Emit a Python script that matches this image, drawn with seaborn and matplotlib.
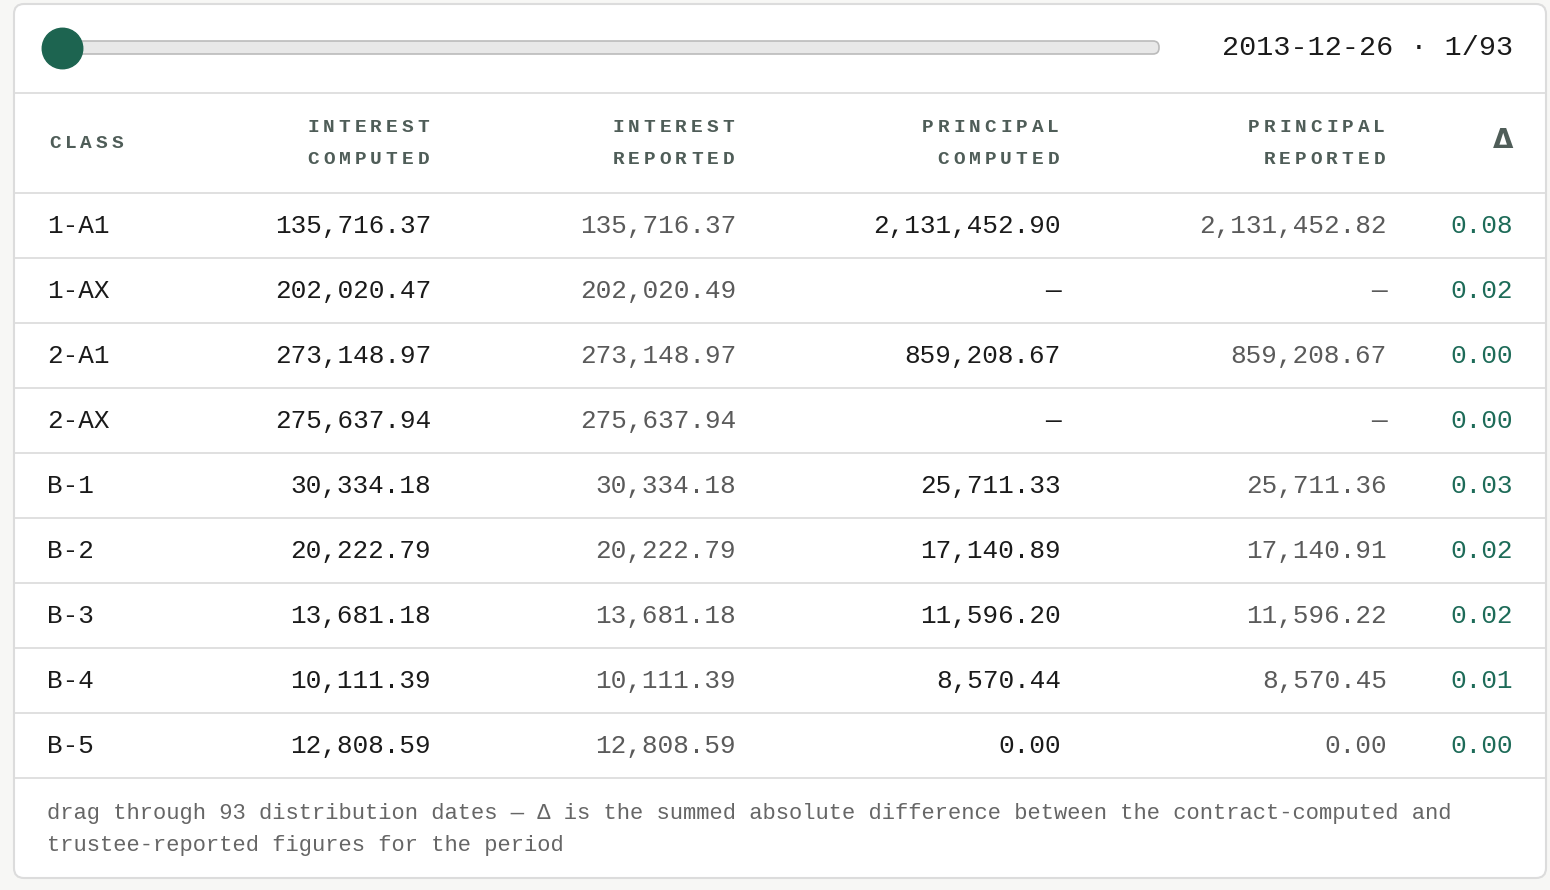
import matplotlib
matplotlib.use("Agg")
import matplotlib.pyplot as plt
from matplotlib.patches import FancyBboxPatch
import seaborn as sns

sns.set_theme(style="white")
plt.rcParams['font.family'] = ['Liberation Mono', 'DejaVu Sans Mono']

date_label = "2013-12-26"
step, total = 1, 93
headers = [("CLASS",), ("INTEREST", "COMPUTED"), ("INTEREST", "REPORTED"),
           ("PRINCIPAL", "COMPUTED"), ("PRINCIPAL", "REPORTED"), ("Δ",)]
classes = ["1-A1", "1-AX", "2-A1", "2-AX", "B-1", "B-2", "B-3", "B-4", "B-5"]
int_computed = ["135,716.37", "202,020.47", "273,148.97", "275,637.94", "30,334.18",
                "20,222.79", "13,681.18", "10,111.39", "12,808.59"]
int_reported = ["135,716.37", "202,020.49", "273,148.97", "275,637.94", "30,334.18",
                "20,222.79", "13,681.18", "10,111.39", "12,808.59"]
prin_computed = ["2,131,452.90", "—", "859,208.67", "—", "25,711.33",
                 "17,140.89", "11,596.20", "8,570.44", "0.00"]
prin_reported = ["2,131,452.82", "—", "859,208.67", "—", "25,711.36",
                 "17,140.91", "11,596.22", "8,570.45", "0.00"]
delta = ["0.08", "0.02", "0.00", "0.00", "0.03", "0.02", "0.02", "0.01", "0.00"]
footnote = ["drag through 93 distribution dates — Δ is the summed absolute difference between the contract-computed and",
            "trustee-reported figures for the period"]

fig = plt.figure(figsize=(15.5, 8.9), dpi=100)
ax = fig.add_axes([0, 0, 1, 1])
ax.set_xlim(0, 1550); ax.set_ylim(890, 0); ax.axis("off")
fig.patch.set_facecolor("#f7f7f5")

ax.add_patch(FancyBboxPatch((14, 4), 1532, 874, boxstyle="round,pad=0,rounding_size=10",
                            fc="white", ec="#dcdcdc", lw=1.5))
line_c = "#dddddd"
ax.add_patch(FancyBboxPatch((62, 41), 1097, 13, boxstyle="round,pad=0,rounding_size=6",
                            fc="#e8e8e8", ec="#bbbbbb", lw=1.2))
ax.scatter([62], [48], s=850, color="#1d6450", zorder=5)
ax.text(1513, 48, f"{date_label} · {step}/{total}", ha="right", va="center", fontsize=20.5, color="#1a1a1a")

for y in [93, 193]:
    ax.plot([14, 1546], [y, y], color=line_c, lw=1.3)
head_c = "#4f5d58"
xs = [47, 431, 736, 1061, 1387, 1513]
pitch = 15.7

def spaced(word, x_right, y, left=None):
    n = len(word)
    x0 = left if left is not None else x_right - pitch * n
    for k, ch in enumerate(word):
        ax.text(x0 + pitch * (k + 0.5), y, ch, ha="center", va="center",
                fontsize=14, color=head_c, fontweight="bold")

for i, h in enumerate(headers):
    if i == 5:
        ax.text(xs[i], 141, h[0], ha="right", va="center", fontsize=19, color=head_c,
                fontweight="bold", family="DejaVu Sans")
    elif i == 0:
        spaced(h[0], None, 143, left=xs[0])
    else:
        spaced(h[0], xs[i], 127)
        spaced(h[1], xs[i], 159)

cols = [classes, int_computed, int_reported, prin_computed, prin_reported, delta]
colors = ["#1a1a1a", "#1a1a1a", "#5a5a5a", "#1a1a1a", "#5a5a5a", "#1d6b58"]
for r in range(len(classes)):
    y = 226 + 65 * r
    ax.plot([14, 1546], [y + 32, y + 32], color=line_c, lw=1.3)
    for c in range(6):
        ax.text(xs[c], y, cols[c][r], ha="left" if c == 0 else "right", va="center",
                fontsize=18.7, color=colors[c])
ax.text(47, 813, footnote[0], ha="left", va="center", fontsize=15.9, color="#666666")
ax.text(47, 846, footnote[1], ha="left", va="center", fontsize=15.9, color="#666666")
fig.savefig("out.png", dpi=100)
